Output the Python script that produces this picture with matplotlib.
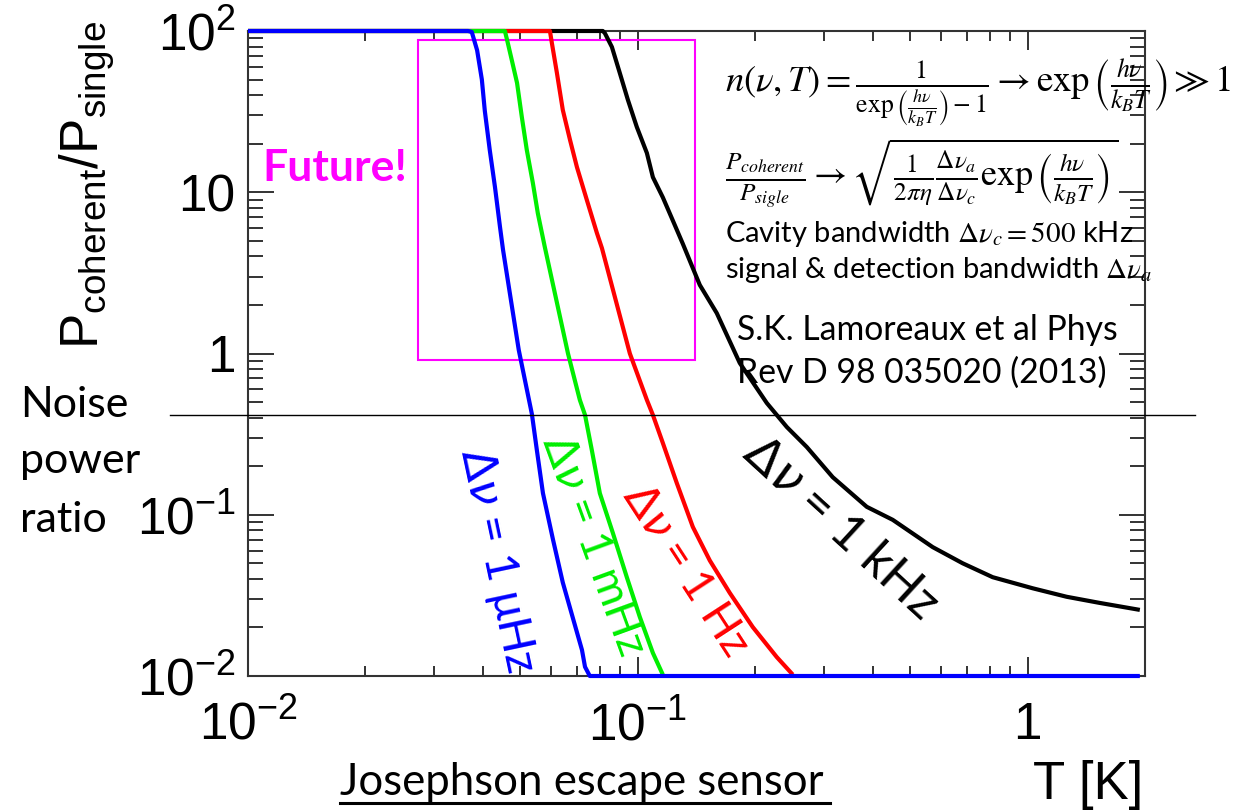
import matplotlib
matplotlib.use("Agg")
import matplotlib.pyplot as plt
from matplotlib.lines import Line2D
from matplotlib.patches import Rectangle
from matplotlib.ticker import NullFormatter, LogLocator

plt.rcParams["font.family"] = "Liberation Sans"

# --- data (T in K, ratio P_coherent/P_single) ---
T_blue = [0.01, 0.0367, 0.0375, 0.0387, 0.0398, 0.0405, 0.0417, 0.0430, 0.0443, 0.0451,
          0.0495, 0.0535, 0.0551, 0.0571, 0.0606, 0.0642, 0.0681, 0.0719, 0.0732, 0.0753, 1.94]
P_blue = [100, 100, 98.6, 76, 50, 32, 18.3, 10.8, 6.1, 4.4,
          1.05, 0.42, 0.25, 0.136, 0.070, 0.038, 0.023, 0.0145, 0.0114, 0.01, 0.01]

T_green = [0.01, 0.0456, 0.0462, 0.0475, 0.0490, 0.0504, 0.0519, 0.0538, 0.0554, 0.0577,
           0.0662, 0.0710, 0.0732, 0.0762, 0.0799, 0.0863, 0.0937, 0.1012, 0.1093, 0.1159]
P_green = [100, 100, 88, 66, 47.6, 29.3, 18.3, 11.4, 7.4, 4.6,
           1.0, 0.515, 0.416, 0.252, 0.136, 0.077, 0.041, 0.0232, 0.0139, 0.0102]

T_red = [0.01, 0.0595, 0.0602, 0.0620, 0.0642, 0.0670, 0.0698, 0.0740, 0.0785, 0.0809,
         0.0954, 0.1055, 0.1093, 0.1159, 0.1259, 0.1384, 0.1530, 0.1722, 0.1972, 0.2272, 0.2497]
P_red = [100, 100, 84, 55, 32.4, 21.1, 14.3, 8.95, 5.6, 4.5,
         1.0, 0.515, 0.416, 0.279, 0.157, 0.084, 0.052, 0.0327, 0.0201, 0.0131, 0.0102]

T_black = [0.01, 0.0813, 0.0823, 0.0858, 0.0899, 0.0943, 0.0994, 0.1055, 0.1093, 0.1159,
           0.1229, 0.1304, 0.1442, 0.1594, 0.1826, 0.2142, 0.2411, 0.2713, 0.3162, 0.3866,
           0.4507, 0.5707, 0.6813, 0.8134, 1.030, 1.259, 1.530, 1.94]
P_black = [100, 100, 97, 79.6, 54.9, 37.4, 25.4, 17.5, 12.4, 9.3,
           6.7, 4.8, 2.66, 1.78, 0.873, 0.493, 0.350, 0.263, 0.171, 0.112,
           0.093, 0.063, 0.050, 0.041, 0.035, 0.031, 0.0284, 0.0257]

curves = [
    (T_black, P_black, "black", r"$\Delta\nu$ = 1 kHz"),
    (T_red, P_red, "#ff0000", r"$\Delta\nu$ = 1 Hz"),
    (T_green, P_green, "#00ee00", r"$\Delta\nu$ = 1 mHz"),
    (T_blue, P_blue, "#0000ff", r"$\Delta\nu$ = 1 μHz"),
]

W, H = 1242, 811
fig = plt.figure(figsize=(W / 100, H / 100), dpi=100)


def fx(px):
    return px / W


def fy(py):
    return 1 - py / H


ax = fig.add_axes([fx(248), fy(676), fx(1145) - fx(248), fy(31) - fy(676)])
ax.set_xscale("log")
ax.set_yscale("log")
ax.set_xlim(0.01, 2.0)
ax.set_ylim(0.01, 100)

for i, (t, p, c, lab) in enumerate(curves):
    ax.plot(t, p, color=c, lw=3, clip_on=False, zorder=3 + i, solid_capstyle="butt")

# future region
ax.add_patch(Rectangle((0.0273, 0.91), 0.140 - 0.0273, 88 - 0.91,
                       fill=False, edgecolor="#ff00ff", lw=1.5, zorder=2))

# ticks / spines
for s in ax.spines.values():
    s.set_linewidth(1.5)
    s.set_color("#333333")
ax.tick_params(which="both", direction="in", top=True, right=True, colors="#333333", width=1.4)
ax.tick_params(axis="x", which="major", length=14, pad=18)
ax.tick_params(axis="x", which="minor", length=7)
ax.tick_params(axis="y", which="major", length=19, pad=9)
ax.tick_params(axis="y", which="minor", length=11)
ax.xaxis.set_minor_locator(LogLocator(subs=range(2, 10)))
ax.yaxis.set_minor_locator(LogLocator(subs=range(2, 10)))
ax.xaxis.set_minor_formatter(NullFormatter())
ax.yaxis.set_minor_formatter(NullFormatter())
ax.set_xticks([0.01, 0.1, 1])
ax.set_xticklabels([r"$\mathregular{10^{-2}}$", r"$\mathregular{10^{-1}}$", "1"])
ax.set_yticks([0.01, 0.1, 1, 10, 100])
ax.set_yticklabels([r"$\mathregular{10^{-2}}$", r"$\mathregular{10^{-1}}$", "1", "10",
                    r"$\mathregular{10^{2}}$"])
for lbl in ax.get_xticklabels() + ax.get_yticklabels():
    lbl.set_fontfamily("Liberation Sans")
    lbl.set_fontsize(37)
    lbl.set_color("black")

# curve labels
label_pos = [(840, 528, -42.5, 36), (685, 570, -57, 32), (593, 545, -70, 32), (497, 560, -78, 33)]
for (t, p, c, lab), (x, y, rot, fs) in zip(curves, label_pos):
    fig.text(fx(x), fy(y), lab, color=c, rotation=rot, fontsize=fs, family="Lato",
             math_fontfamily="dejavusans", ha="center", va="center", rotation_mode="anchor")

# axis labels
fig.text(fx(88), fy(185), r"P$_{\mathregular{coherent}}$/P$_{\mathregular{single}}$",
         rotation=90, ha="center", va="center", fontsize=38, family="Liberation Sans")
fig.text(fx(1033), fy(799), "T [K]", fontsize=38, family="Liberation Sans", ha="left", va="baseline")
fig.text(fx(340), fy(795), "Josephson escape sensor", fontsize=31.5, family="Lato",
         ha="left", va="baseline")
fig.add_artist(Line2D([fx(340), fx(830)], [fy(803), fy(803)], color="black", lw=2.2))

# noise line and text
fig.add_artist(Line2D([fx(170), fx(1195)], [fy(415), fy(415)], color="black", lw=1))
for word, yb in zip(["Noise", "power", "ratio"], [417, 473, 532]):
    fig.text(fx(20), fy(yb), word, fontsize=31, family="Lato", ha="left", va="baseline")

fig.text(fx(262), fy(181), "Future!", color="#ff00ff", fontsize=32, family="Lato",
         fontweight="bold", ha="left", va="baseline")

# formulas
fig.text(fx(725), fy(92),
         r"$n(\nu,T)=\frac{1}{\exp\left(\frac{h\nu}{k_BT}\right)-1}\rightarrow\exp\left(\frac{h\nu}{k_BT}\right)\gg1$",
         fontsize=26.5, math_fontfamily="stix", ha="left", va="baseline")
fig.text(fx(725), fy(187),
         r"$\frac{P_{coherent}}{P_{sigle}}\rightarrow\sqrt{\frac{1}{2\pi\eta}\frac{\Delta\nu_a}{\Delta\nu_c}\exp\left(\frac{h\nu}{k_BT}\right)}$",
         fontsize=26, math_fontfamily="stix", ha="left", va="baseline")
fig.text(fx(725), fy(242), r"Cavity bandwidth $\Delta\nu_c=500$ kHz", fontsize=21,
         family="Lato", math_fontfamily="stix", ha="left", va="baseline")
fig.text(fx(725), fy(278), r"signal & detection bandwidth $\Delta\nu_a$", fontsize=21,
         family="Lato", math_fontfamily="stix", ha="left", va="baseline")

fig.text(fx(737), fy(340), "S.K. Lamoreaux et al Phys", fontsize=24.3, family="Lato",
         ha="left", va="baseline")
fig.text(fx(737), fy(383), "Rev D 98 035020 (2013)", fontsize=24.3, family="Lato",
         ha="left", va="baseline")

fig.savefig("out.png", dpi=100)
